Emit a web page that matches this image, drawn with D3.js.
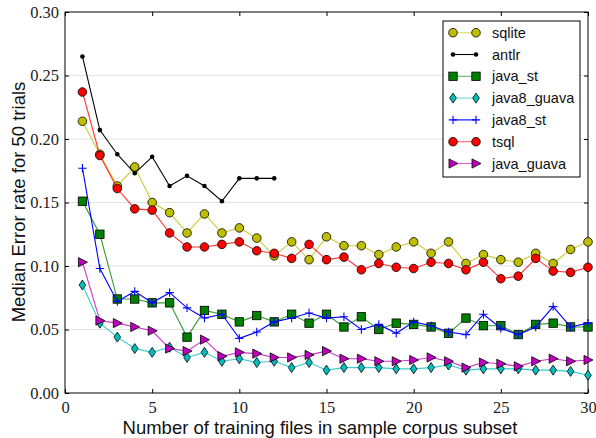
<!DOCTYPE html>
<html><head><meta charset="utf-8">
<script src="https://cdn.jsdelivr.net/npm/d3@7"></script>
<style>body{margin:0;background:#fff}svg{display:block}</style>
</head><body>
<script>
const xs = d3.range(1, 31);
const sqlite = [0.214,0.188,0.163,0.178,0.150,0.142,0.126,0.141,0.126,0.130,0.122,0.108,0.119,0.105,0.123,0.116,0.116,0.109,0.115,0.119,0.110,0.119,0.102,0.109,0.105,0.103,0.110,0.102,0.113,0.119];
const antlr = [0.265,0.207,0.188,0.173,0.186,0.163,0.171,0.163,0.151,0.169,0.169,0.169];
const java_st = [0.151,0.125,0.074,0.074,0.071,0.071,0.044,0.065,0.062,0.056,0.061,0.056,0.062,0.055,0.062,0.052,0.060,0.050,0.055,0.054,0.052,0.047,0.059,0.053,0.053,0.046,0.054,0.055,0.052,0.052];
const java8_guava = [0.085,0.055,0.044,0.035,0.032,0.036,0.028,0.032,0.025,0.027,0.024,0.025,0.020,0.024,0.018,0.020,0.020,0.020,0.019,0.019,0.020,0.022,0.018,0.019,0.019,0.019,0.018,0.018,0.017,0.014];
const java8_st = [0.177,0.098,0.072,0.080,0.071,0.079,0.067,0.059,0.062,0.043,0.048,0.056,0.059,0.063,0.059,0.060,0.050,0.054,0.047,0.056,0.053,0.048,0.046,0.062,0.051,0.046,0.052,0.068,0.052,0.055];
const tsql = [0.237,0.187,0.161,0.145,0.144,0.126,0.115,0.115,0.117,0.119,0.112,0.110,0.106,0.117,0.105,0.107,0.097,0.102,0.099,0.098,0.103,0.102,0.097,0.103,0.090,0.092,0.106,0.096,0.095,0.099];
const java_guava = [0.103,0.057,0.055,0.052,0.049,0.035,0.033,0.042,0.029,0.032,0.031,0.028,0.028,0.030,0.033,0.027,0.027,0.025,0.025,0.026,0.028,0.025,0.020,0.024,0.023,0.021,0.025,0.027,0.025,0.026];
const seriesNames = ["sqlite","antlr","java_st","java8_guava","java8_st","tsql","java_guava"];
const xTicks = [0,5,10,15,20,25,30];
const yTicks = [0.00,0.05,0.10,0.15,0.20,0.25,0.30];

const series = [
  {name:"sqlite", vals:sqlite, color:"#bfbf00", marker:"circle"},
  {name:"antlr", vals:antlr, color:"#000000", marker:"dot"},
  {name:"java_st", vals:java_st, color:"#008000", marker:"square"},
  {name:"java8_guava", vals:java8_guava, color:"#00bfbf", marker:"diamond"},
  {name:"java8_st", vals:java8_st, color:"#0000ff", marker:"plus"},
  {name:"tsql", vals:tsql, color:"#ff0000", marker:"circle"},
  {name:"java_guava", vals:java_guava, color:"#bf00bf", marker:"tri"}
];

const W=596,H=438;
const L=65,R=588,T=12,B=393;
const svg=d3.select("body").append("svg").attr("width",W).attr("height",H);
const x=d3.scaleLinear().domain([0,30]).range([L,R]);
const y=d3.scaleLinear().domain([0,0.30]).range([B,T]);

// grid
svg.append("g").selectAll("line").data(yTicks.slice(1,-1)).join("line")
  .attr("x1",L).attr("x2",R).attr("y1",d=>y(d)).attr("y2",d=>y(d))
  .attr("stroke","#e3e3e3").attr("stroke-width",1);

const serif="'Liberation Serif','DejaVu Serif',serif";
const sans="'Liberation Sans',Arial,sans-serif";

// axes
const ax=svg.append("g").attr("transform",`translate(0,${B})`).call(d3.axisBottom(x).tickValues(xTicks).tickFormat(d3.format("d")).tickSizeInner(-4).tickSizeOuter(0).tickPadding(8));
const ax2=svg.append("g").attr("transform",`translate(0,${T})`).call(d3.axisTop(x).tickValues(xTicks).tickFormat("").tickSizeInner(-4).tickSizeOuter(0));
const ay=svg.append("g").attr("transform",`translate(${L},0)`).call(d3.axisLeft(y).tickValues(yTicks).tickFormat(d3.format(".2f")).tickSizeInner(-4).tickSizeOuter(0).tickPadding(6));
const ay2=svg.append("g").attr("transform",`translate(${R},0)`).call(d3.axisRight(y).tickValues(yTicks).tickFormat("").tickSizeInner(-4).tickSizeOuter(0));
[ax,ax2,ay,ay2].forEach(g=>{g.select(".domain").remove();g.selectAll("line").attr("stroke","#000");g.selectAll("text").attr("font-family",serif).attr("font-size",16.5).attr("fill","#222");});
svg.append("rect").attr("x",L).attr("y",T).attr("width",R-L).attr("height",B-T).attr("fill","none").attr("stroke","#000").attr("stroke-width",1);

function drawMarker(g, m, color, cx, cy){
  if(m==="circle") g.append("circle").attr("cx",cx).attr("cy",cy).attr("r",4.3).attr("fill",color).attr("stroke","#000").attr("stroke-width",0.8);
  else if(m==="dot") g.append("circle").attr("cx",cx).attr("cy",cy).attr("r",2.3).attr("fill",color);
  else if(m==="square") g.append("rect").attr("x",cx-4.2).attr("y",cy-4.2).attr("width",8.4).attr("height",8.4).attr("fill",color).attr("stroke","#000").attr("stroke-width",0.8);
  else if(m==="diamond") g.append("path").attr("d",`M${cx},${cy-5}L${cx+3.3},${cy}L${cx},${cy+5}L${cx-3.3},${cy}Z`).attr("fill",color).attr("stroke","#000").attr("stroke-width",0.8);
  else if(m==="plus") g.append("path").attr("d",`M${cx-4.2},${cy}H${cx+4.2}M${cx},${cy-4.2}V${cy+4.2}`).attr("stroke",color).attr("stroke-width",1.1);
  else if(m==="tri") g.append("path").attr("d",`M${cx-4},${cy-4.6}L${cx+5},${cy}L${cx-4},${cy+4.6}Z`).attr("fill",color).attr("stroke","#000").attr("stroke-width",0.8);
}

const line=d3.line().x(d=>x(d.x)).y(d=>y(d.v));
const plot=svg.append("g");
series.forEach(s=>{
  const data=s.vals.map((v,i)=>({x:xs[i],v}));
  const g=plot.append("g");
  g.append("path").attr("d",line(data)).attr("fill","none").attr("stroke",s.color).attr("stroke-width",1.1).attr("stroke-opacity",s.color==="#000000"||s.color==="#0000ff"?1:0.8);
  data.forEach(d=>drawMarker(g,s.marker,s.color,x(d.x),y(d.v)));
});

// legend
const lg=svg.append("g");
lg.append("rect").attr("x",443).attr("y",21).attr("width",137).attr("height",156).attr("fill","#fff").attr("stroke","#000").attr("stroke-width",1);
series.forEach((s,i)=>{
  const cy=32.7+i*21.8;
  const g=lg.append("g");
  g.append("line").attr("x1",453).attr("x2",476).attr("y1",cy).attr("y2",cy).attr("stroke",s.color).attr("stroke-width",1.1).attr("stroke-opacity",s.color==="#000000"||s.color==="#0000ff"?1:0.6);
  drawMarker(g,s.marker,s.color,453,cy);
  drawMarker(g,s.marker,s.color,476,cy);
  g.append("text").attr("x",492).attr("y",cy+5).attr("font-family",sans).attr("font-size",14.5).attr("fill","#111").text(seriesNames[i]);
});

// axis labels
svg.append("text").attr("x",320).attr("y",434).attr("text-anchor","middle").attr("font-family",sans).attr("font-size",18.5).attr("fill","#111").text("Number of training files in sample corpus subset");
svg.append("text").attr("transform",`translate(25,202)rotate(-90)`).attr("text-anchor","middle").attr("font-family",sans).attr("font-size",18.5).attr("fill","#111").text("Median Error rate for 50 trials");
</script>
</body></html>
